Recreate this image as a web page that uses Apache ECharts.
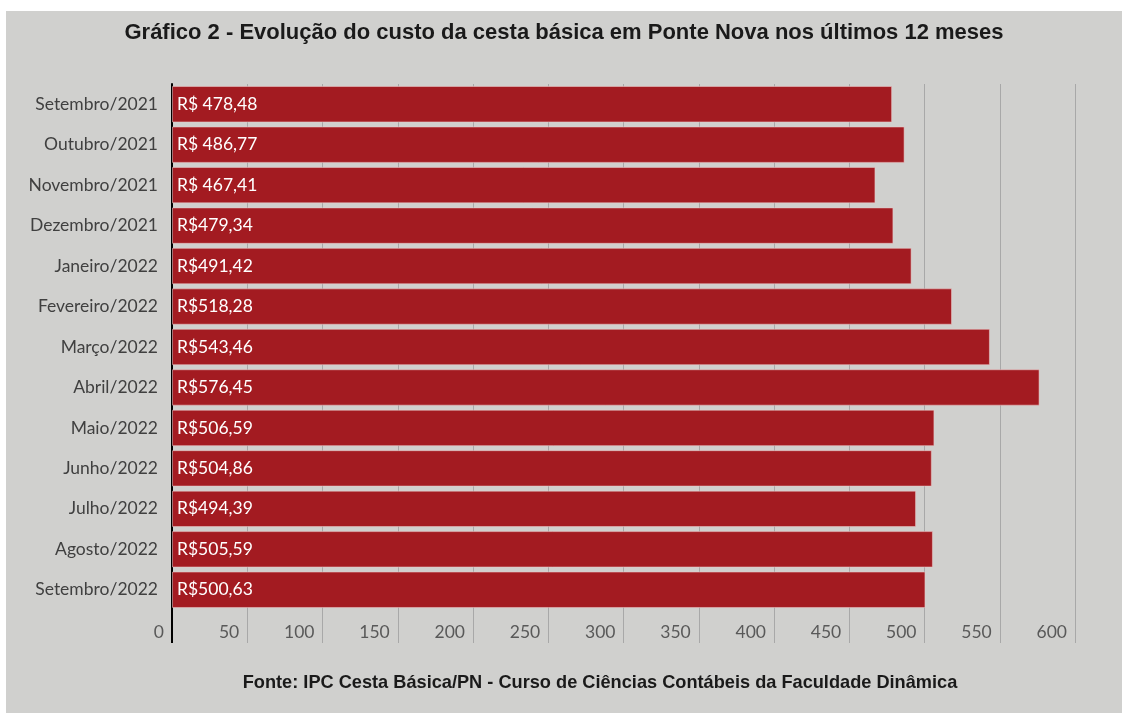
<!DOCTYPE html>
<html>
<head>
<meta charset="utf-8">
<script src="https://cdn.jsdelivr.net/npm/echarts@6/dist/echarts.min.js"></script>
<style>
html,body{margin:0;padding:0;background:#ffffff;}
#c{position:absolute;left:6px;top:11px;width:1116px;height:702px;background:#d0d0ce;}
</style>
</head>
<body>
<div id="c"></div>
<script>
const titleText = 'Gráfico 2 - Evolução do custo da cesta básica em Ponte Nova nos últimos 12 meses';
const sourceText = 'Fonte: IPC Cesta Básica/PN - Curso de Ciências Contábeis da Faculdade Dinâmica';
const months = ['Setembro/2021','Outubro/2021','Novembro/2021','Dezembro/2021','Janeiro/2022','Fevereiro/2022','Março/2022','Abril/2022','Maio/2022','Junho/2022','Julho/2022','Agosto/2022','Setembro/2022'];
const costs = [478.48,486.77,467.41,479.34,491.42,518.28,543.46,576.45,506.59,504.86,494.39,505.59,500.63];
const valueLabels = ['R$ 478,48','R$ 486,77','R$ 467,41','R$479,34','R$491,42','R$518,28','R$543,46','R$576,45','R$506,59','R$504,86','R$494,39','R$505,59','R$500,63'];
const axisMin = 0, axisMax = 600, axisStep = 50;

const gridLeft = 166, gridRight = 47, gridTop = 73, gridBottom = 103;
const chart = echarts.init(document.getElementById('c'), null, {renderer:'canvas'});
chart.setOption({
  animation:false,
  backgroundColor:'#d0d0ce',
  title:[{
    text:titleText, left:'center', top:6,
    textStyle:{fontFamily:'Liberation Sans', fontWeight:'bold', fontSize:22, color:'#1a1a1a'}
  },{
    text:sourceText, left:589, textAlign:'center', top:658,
    textStyle:{fontFamily:'Liberation Sans', fontWeight:'bold', fontSize:18.2, color:'#1a1a1a'}
  }],
  grid:{left:gridLeft, right:gridRight, top:gridTop, bottom:gridBottom, containLabel:false},
  xAxis:{
    type:'value', min:axisMin, max:axisMax, interval:axisStep,
    axisLine:{show:false},
    axisTick:{show:true, length:33, lineStyle:{color:'#a8a8a8', width:1}},
    splitLine:{show:true, lineStyle:{color:'#a8a8a8', width:1}},
    axisLabel:{align:'right', padding:[0,8,0,0], margin:13, fontFamily:'Lato', fontSize:17.5, color:'#595959'}
  },
  yAxis:{
    type:'category', data:months, inverse:true,
    axisLine:{show:true, lineStyle:{color:'#000000', width:2}},
    axisTick:{show:false},
    axisLabel:{margin:14, fontFamily:'Lato', fontSize:17.5, color:'#404040'}
  },
  series:[{
    type:'bar', data:costs, barCategoryGap:'10%',
    itemStyle:{color:'#a31b21', borderColor:'rgba(235,200,200,0.55)', borderWidth:1},
    label:{show:true, position:'insideLeft', distance:5, fontFamily:'Lato', fontSize:17.5, color:'#ffffff',
      formatter:(p)=>valueLabels[p.dataIndex]}
  }]
});
const x0 = chart.convertToPixel({xAxisIndex:0}, axisMin);
const yb = 702 - gridBottom;
chart.setOption({graphic:[{type:'line', shape:{x1:x0, y1:yb-2, x2:x0, y2:yb+33}, style:{stroke:'#000000', lineWidth:2}, z:100}]});
</script>
</body>
</html>
